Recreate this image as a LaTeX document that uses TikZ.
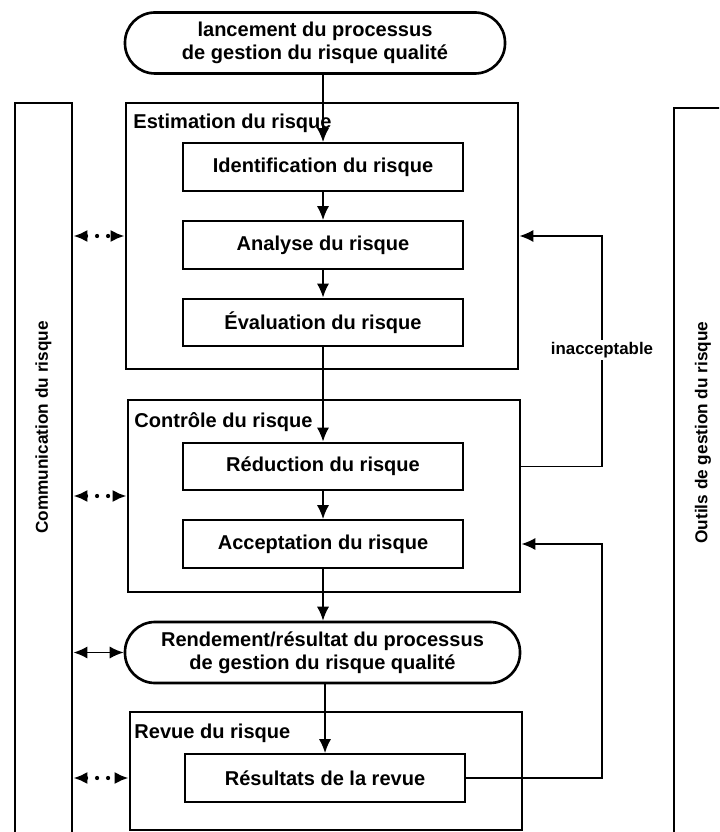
\documentclass[tikz,border=0pt]{standalone}
\usepackage{fontspec}
\setmainfont{Liberation Sans}
\usetikzlibrary{arrows.meta,shapes}

\begin{document}
\begin{tikzpicture}[->,>={Latex[length=8pt,width=7pt]},
	line width=1pt,
	font=\bfseries\fontsize{11.4}{13}\selectfont,
	stage box/.style={draw,line width=1.3pt,minimum width=5.6cm,minimum height=0.95cm},
	group box/.style={draw,line width=1.6pt,minimum width=7.84cm},
	term node/.style={draw,line width=1.5pt,rounded corners=0.6cm,minimum height=1.22cm,align=center},
	side box/.style={draw,line width=1.6pt,minimum height=15cm},
	group title/.style={anchor=north west,inner sep=0pt},
	side text/.style={rotate=90,font=\bfseries\fontsize{9.8}{12}\selectfont},
	dotted link/.style={<->,dash pattern=on 0pt off 2.2mm,line cap=round,line width=2.4pt}
]

	\useasboundingbox (0,0) rectangle (14.38,-16.64);
	\clip (0,0) rectangle (14.38,-16.64);

	\coordinate (loopx) at (12.04,0);

	\node[side box,minimum width=1.14cm] (comm) at (0.87,-9.56) {};
	\node[side box,minimum width=1.8cm] (tools) at (14.38,-9.66) {};
	\node[side text] (commT) at (0.87,-8.55) {Communication du risque};
	\node[side text] (toolsT) at (14.06,-8.65) {Outils de gestion du risque};

	\node[term node,minimum width=7.6cm] (launch) at (6.30,-0.86) {lancement du processus\\de gestion du risque qualité};

	\node[group box,minimum height=5.32cm] (estim) at (6.44,-4.72) {};
	\node[group title] (estimT) at ([shift={(0.16,-0.24)}]estim.north west) {Estimation du risque};
	\node[stage box] (ident) at (6.46,-3.34) {Identification du risque};
	\node[stage box] (analyse) at (6.46,-4.90) {Analyse du risque};
	\node[stage box] (eval) at (6.46,-6.45) {Évaluation du risque};

	\node[group box,minimum height=3.84cm] (control) at (6.48,-9.92) {};
	\node[group title] (controlT) at ([shift={(0.14,-0.26)}]control.north west) {Contrôle du risque};
	\node[stage box] (reduc) at (6.46,-9.33) {Réduction du risque};
	\node[stage box] (accept) at (6.46,-10.88) {Acceptation du risque};

	\node[term node,minimum width=7.9cm] (output) at (6.45,-13.05) {Rendement/résultat du processus\\de gestion du risque qualité};

	\node[group box,minimum height=2.36cm] (review) at (6.52,-15.42) {};
	\node[group title] (reviewT) at ([shift={(0.1,-0.26)}]review.north west) {Revue du risque};
	\node[stage box] (results) at (6.50,-15.56) {Résultats de la revue};

	\draw (ident.north |- launch.south) -- (ident.north);
	\draw (ident) -- (analyse);
	\draw (analyse) -- (eval);
	\draw (eval) -- (reduc);
	\draw (reduc) -- (accept);
	\draw (accept.south) -- (accept.south |- output.north);
	\draw (output.south -| results.north) -- (results.north);

	\draw (reduc -| control.east) -- (reduc -| loopx) |- (estim.east);
	\draw (results.east) -- (results.east -| loopx) |- (accept -| control.east);
	\node[fill=white,inner sep=1pt,font=\bfseries\fontsize{9.6}{11}\selectfont] (inacc) at (12.04,-7.0) {inacceptable};

	\draw[dotted link] (comm.east |- estim) -- (estim.west);
	\draw[dotted link] (comm.east |- control) -- (control.west);
	\draw[<->] (comm.east |- output) -- (output.west);
	\draw[dotted link] (comm.east |- results) -- (results -| review.west);
\end{tikzpicture}
\end{document}
